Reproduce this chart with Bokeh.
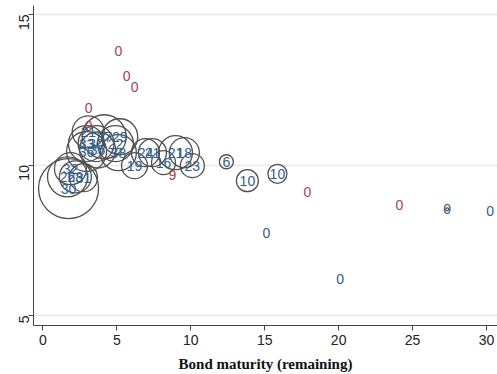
import math
from bokeh.plotting import figure
from bokeh.models import ColumnDataSource, Range1d, FixedTicker
from bokeh.core.properties import value
from bokeh.embed import file_html
from bokeh.resources import INLINE

# Bond maturity (remaining), yield, label, bubble weight, group
maturity = [5.11, 5.66, 6.20, 3.09, 3.09, 8.76, 17.89, 24.10,
            27.34, 30.25, 15.11, 20.10, 12.41, 13.83, 15.86, 10.11,
            9.57, 8.97, 8.16, 7.41, 6.94, 6.20, 5.11, 4.91, 5.20,
            4.15, 2.95, 3.60, 3.07, 3.70, 2.96, 1.87, 1.67, 2.20, 2.75, 1.74]
yields = [13.78, 12.96, 12.59, 11.90, 11.30, 9.68, 9.12, 8.66,
          8.53, 8.47, 7.74, 6.20, 10.11, 9.48, 9.71, 9.98,
          10.41, 10.41, 10.08, 10.41, 10.41, 9.98, 10.41, 10.71, 10.94,
          10.94, 10.71, 10.71, 11.10, 10.50, 10.45, 9.88, 9.61, 9.61, 9.58, 9.22]
labels = ["0", "0", "0", "0", "0", "9", "0", "0",
          "0", "0", "0", "0", "6", "10", "10", "23",
          "18", "21", "16", "21", "24", "19", "38", "22", "29",
          "37", "33", "30", "21", "35", "36", "32", "26", "28", "31", "30"]
weight = [0, 0, 0, 0, 0, 0, 0, 0,
          1.5, 0, 0, 0, 7, 11, 9.5, 12,
          15, 17, 12, 14, 14, 13, 18, 18, 18,
          22, 18, 18, 16, 18, 20, 16, 20, 16, 14, 30]
group = ["r", "r", "r", "r", "r", "r", "r", "r",
         "b", "b", "b", "b", "b", "b", "b", "b",
         "b", "b", "b", "b", "b", "b", "b", "b", "b",
         "b", "b", "b", "b", "b", "b", "b", "b", "b", "b", "b"]

x_ticks = [0, 5, 10, 15, 20, 25, 30]
y_ticks = [5, 10, 15]

colors = {"r": "#a8424c", "b": "#2e5e8c"}

src = ColumnDataSource(dict(
    x=maturity, y=yields, lab=labels,
    size=[2 * w for w in weight],
    col=[colors[g] for g in group],
))

p = figure(width=497, height=374, output_backend="svg", toolbar_location=None,
           x_range=Range1d(-0.63, 30.74), y_range=Range1d(4.67, 15.3),
           min_border_left=33, min_border_right=0, min_border_top=5, min_border_bottom=49)
p.background_fill_color = "white"
p.border_fill_color = "white"
p.outline_line_color = None

p.scatter("x", "y", source=src, size="size", marker="circle",
          fill_alpha=0, line_color="#505050", line_width=1.3)
p.text("x", "y", text="lab", source=src, text_color="col",
       text_align="center", text_baseline="middle",
       text_font=value("Liberation Sans"), text_font_size="14px")

p.xgrid.grid_line_color = None
p.ygrid.grid_line_color = "#e8e8e8"
p.ygrid.grid_line_width = 1.5
p.ygrid.ticker = FixedTicker(ticks=y_ticks)

p.xaxis.ticker = FixedTicker(ticks=x_ticks)
p.yaxis.ticker = FixedTicker(ticks=y_ticks)
for ax in (p.xaxis, p.yaxis):
    ax.axis_line_color = "#444444"
    ax.major_tick_line_color = "#444444"
    ax.major_tick_out = 5
    ax.major_tick_in = 0
    ax.minor_tick_line_color = None
    ax.major_label_text_font = "Liberation Sans"
    ax.major_label_text_font_size = "14px"
    ax.major_label_text_color = "#222222"
p.yaxis.major_label_orientation = math.pi / 2
p.yaxis.major_label_standoff = 4
p.xaxis.major_label_standoff = 4

p.xaxis.axis_label = "Bond maturity (remaining)"
p.xaxis.axis_label_text_font = "Liberation Serif"
p.xaxis.axis_label_text_font_style = "bold"
p.xaxis.axis_label_text_font_size = "15px"
p.xaxis.axis_label_text_color = "#111111"
p.xaxis.axis_label_standoff = 8

open("out.html", "w").write(file_html(p, INLINE))
